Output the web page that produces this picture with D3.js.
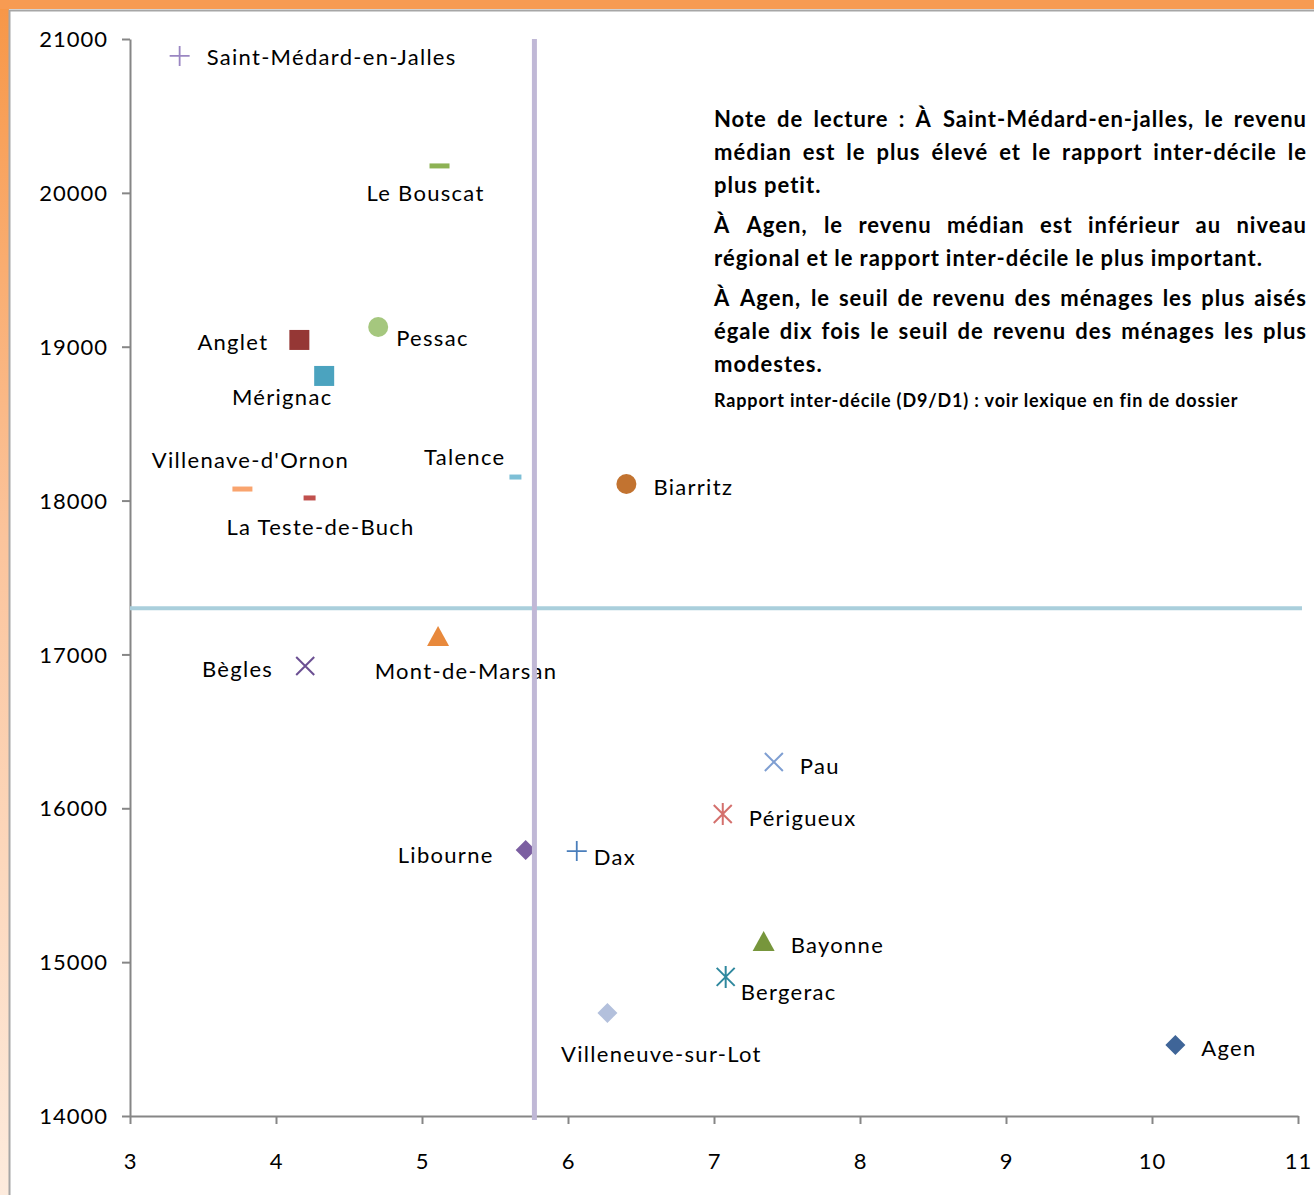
<!DOCTYPE html>
<html><head><meta charset="utf-8">
<script src="https://cdn.jsdelivr.net/npm/d3@7"></script>
<style>body{margin:0;background:#fff}svg{display:block}</style>
</head><body>
<script>
// ---------- DATA ----------
const communes = ["Saint-Médard-en-Jalles","Le Bouscat","Pessac","Anglet","Mérignac","Villenave-d'Ornon","La Teste-de-Buch","Talence","Biarritz","Mont-de-Marsan","Bègles","Pau","Périgueux","Libourne","Dax","Bayonne","Bergerac","Villeneuve-sur-Lot","Agen"];
const rapportInterdecile = [3.34,5.12,4.70,4.16,4.33,3.77,4.23,5.64,6.40,5.11,4.20,7.41,7.06,5.71,6.06,7.34,7.08,6.27,10.16];
const revenuMedian = [20890,20175,19128,19044,18810,18075,18017,18153,18108,17120,16925,16301,15963,15729,15722,15138,14904,14670,14462];
const markerShapes = ["plus","dash","circle","square","square","dash","dashS","dashS","circle","triangle","x","x","star","diamond","plus","triangle","star","diamond","diamond"];
const markerColors = ["#9A86C2","#8DB254","#A5C77E","#953735","#4BA3BF","#F9A46E","#C0504D","#7DBFD6","#C27330","#E8893C","#6B4F92","#7F9FD2","#D4706D","#7B5EA1","#4A7EBB","#77963C","#2F889E","#B3C0DC","#3F6598"];
const xTicks = [3,4,5,6,7,8,9,10,11];
const yTicks = [14000,15000,16000,17000,18000,19000,20000,21000];
const regionalMedian = 17300;
const regionalRapport = 5.77;
const noteParagraphs = [
  ["Note de lecture : À Saint-Médard-en-jalles, le revenu","médian est le plus élevé et le rapport inter-décile le","plus petit."],
  ["À Agen, le revenu médian est inférieur au niveau","régional et le rapport inter-décile le plus important."],
  ["À Agen, le seuil de revenu des ménages les plus aisés","égale dix fois le seuil de revenu des ménages les plus","modestes."]
];
const noteFoot = "Rapport inter-décile (D9/D1) : voir lexique en fin de dossier";

// label placement (anchor, dx, dy relative to marker)
const labelPlacement = [["start",27,1],["middle",-14,27],["start",18,11],["end",-31,2],["middle",-42,21],["middle",8,-29],["middle",11,29],["end",-10,-20],["start",27,3],["middle",28,35],["end",-32,3],["start",26,4],["start",26,4],["end",-32,5],["start",17,6],["start",27,4],["start",15,15],["middle",54,41],["start",26,3]];

// ---------- LAYOUT ----------
const W = 1314, H = 1195;
const FONT = "Lato, 'Open Sans', sans-serif";
const svg = d3.select("body").append("svg").attr("width", W).attr("height", H);
const defs = svg.append("defs");
const grad = defs.append("linearGradient").attr("id","lg").attr("x1",0).attr("y1",0).attr("x2",0).attr("y2",1);
grad.append("stop").attr("offset","0%").attr("stop-color","#F79646");
grad.append("stop").attr("offset","45%").attr("stop-color","#FBC49C");
grad.append("stop").attr("offset","100%").attr("stop-color","#FDEBDD");

svg.append("rect").attr("x",0).attr("y",0).attr("width",W).attr("height",H).attr("fill","#fff");
svg.append("rect").attr("x",0).attr("y",0).attr("width",9).attr("height",H).attr("fill","url(#lg)");
svg.append("rect").attr("x",0).attr("y",0).attr("width",W).attr("height",9).attr("fill","#F79B52");
svg.append("path").attr("d",`M9.5,${H} V10.5 H${W}`).attr("fill","none").attr("stroke","#A6A6A6").attr("stroke-width",2);

const x = d3.scaleLinear().domain([3,11]).range([130,1298]);
const y = d3.scaleLinear().domain([14000,21000]).range([1116,39]);

// axes
const xAxis = svg.append("g").attr("transform","translate(0,1116)")
  .call(d3.axisBottom(x).tickValues(xTicks).tickSize(8).tickSizeOuter(0).tickPadding(29).tickFormat(d3.format("d")));
const yAxis = svg.append("g").attr("transform","translate(130,0)")
  .call(d3.axisLeft(y).tickValues(yTicks).tickSize(8).tickSizeOuter(0).tickPadding(14).tickFormat(d=>String(d)));
[xAxis,yAxis].forEach(g=>{
  g.select(".domain").attr("stroke","#868686").attr("stroke-width",2);
  g.selectAll(".tick line").attr("stroke","#868686").attr("stroke-width",2);
  g.selectAll(".tick text").attr("fill","#000").style("font-family",FONT).style("font-size","22px").style("letter-spacing","1px");
});
xAxis.selectAll(".tick text").attr("dy","0.71em");
yAxis.selectAll(".tick text").attr("dy","0.35em");

// markers
function markerPath(shape){
  switch(shape){
    case "plus": return "M-10,0H10M0,-10V10";
    case "x": return "M-9,-9L9,9M-9,9L9,-9";
    case "star": return "M-9,-9L9,9M-9,9L9,-9M0,-11V11";
    case "triangle": return "M0,-10L11,10H-11Z";
    case "diamond": return "M0,-10L10,0L0,10L-10,0Z";
    case "square": return "M-10,-10H10V10H-10Z";
    case "dash": return "M-10,-2.5H10V2.5H-10Z";
    case "dashS": return "M-6,-2.5H6V2.5H-6Z";
  }
}
const pts = communes.map((c,i)=>({c, xv:rapportInterdecile[i], yv:revenuMedian[i], s:markerShapes[i], col:markerColors[i], lp:labelPlacement[i]}));
const mg = svg.append("g");
pts.forEach(p=>{
  const g = mg.append("g").attr("transform",`translate(${x(p.xv)},${y(p.yv)})`);
  if(p.s==="circle"){
    g.append("circle").attr("r",10).attr("fill",p.col);
  } else if(["plus","x","star"].includes(p.s)){
    g.append("path").attr("d",markerPath(p.s)).attr("fill","none").attr("stroke",p.col).attr("stroke-width",p.s==="plus"?1.8:2);
  } else {
    g.append("path").attr("d",markerPath(p.s)).attr("fill",p.col);
  }
  svg.append("text").attr("x",x(p.xv)+p.lp[1]).attr("y",y(p.yv)+p.lp[2]).attr("dy","0.35em")
    .attr("text-anchor",p.lp[0]).style("font-family",FONT).style("font-size","22px").style("letter-spacing","1.3px").attr("fill","#000").text(p.c);
});

// reference lines
svg.append("line").attr("x1",130).attr("x2",1302).attr("y1",y(regionalMedian)).attr("y2",y(regionalMedian))
  .attr("stroke","#AACFDC").attr("stroke-width",4);
svg.append("line").attr("x1",x(regionalRapport)).attr("x2",x(regionalRapport)).attr("y1",39).attr("y2",1120)
  .attr("stroke","#C0B8D6").attr("stroke-width",5);

// note text (justified)
const noteX = 714, noteW = 593;
const noteG = svg.append("g");
let baseY = 127;
const lh = 33;
noteParagraphs.forEach((para,pi)=>{
  para.forEach((line,li)=>{
    const words = line.split(" ");
    const last = li===para.length-1;
    const tmp = words.map(w=>noteG.append("text").style("font-family",FONT).style("font-size","22px").style("font-weight","bold").style("letter-spacing","1px").attr("fill","#000").text(w));
    const widths = tmp.map(t=>t.node().getBBox().width);
    const total = d3.sum(widths);
    const spaceW = last ? 6 : (noteW-total)/(words.length-1);
    let cx = noteX;
    tmp.forEach((t,k)=>{ t.attr("x",cx).attr("y",baseY); cx += widths[k]+spaceW; });
    baseY += lh;
  });
  baseY += 7;
});
noteG.append("text").attr("x",noteX).attr("y",407).style("font-family",FONT).style("font-size","18px").style("font-weight","bold").style("letter-spacing","0.85px").attr("fill","#000").text(noteFoot);
</script>
</body></html>
